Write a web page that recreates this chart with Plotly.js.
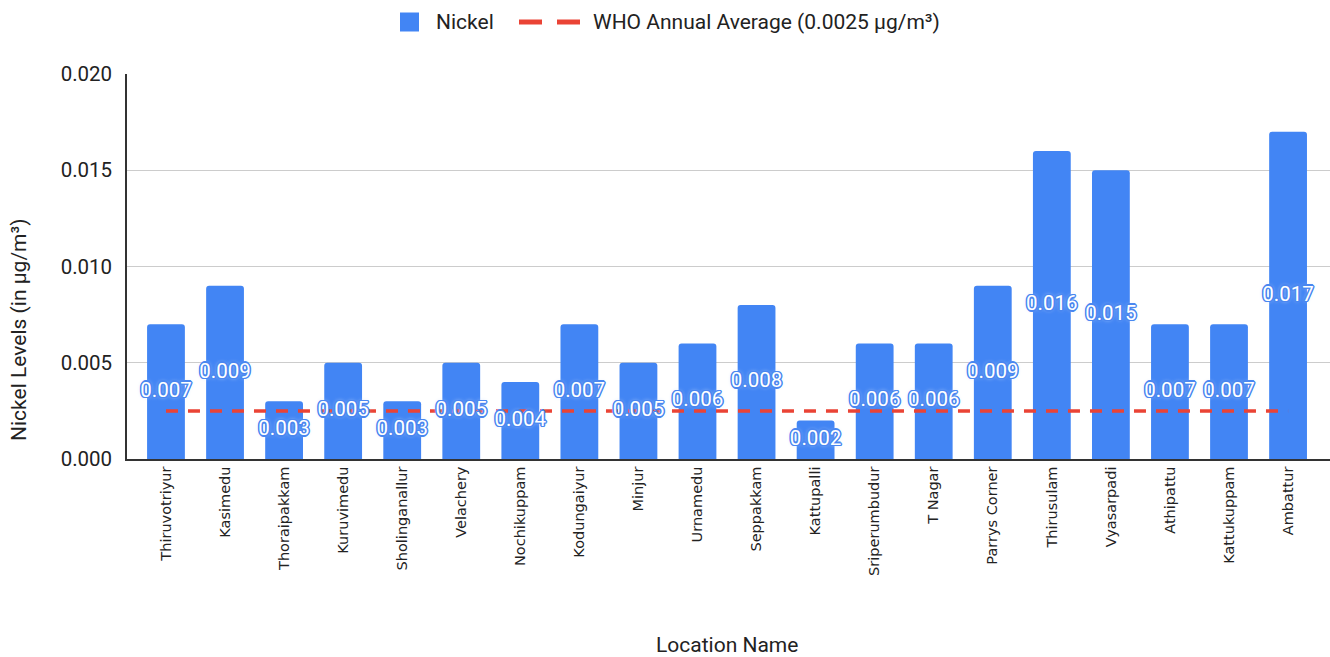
<!DOCTYPE html>
<html>
<head>
<meta charset="utf-8">
<script src="https://cdn.plot.ly/plotly-3.0.1.min.js"></script>
<style>
  html, body { margin: 0; padding: 0; background: #ffffff; }
  #chart { width: 1330px; height: 657px; }
</style>
</head>
<body>
<div id="chart"></div>
<script>
// Monitoring stations
const locations = [
  "Thiruvotriyur", "Kasimedu", "Thoraipakkam", "Kuruvimedu", "Sholinganallur",
  "Velachery", "Nochikuppam", "Kodungaiyur", "Minjur", "Urnamedu",
  "Seppakkam", "Kattupalli", "Sriperumbudur", "T Nagar", "Parrys Corner",
  "Thirusulam", "Vyasarpadi", "Athipattu", "Kattukuppam", "Ambattur"
];

// Nickel concentration at each station (µg/m³)
const nickel = [
  0.007, 0.009, 0.003, 0.005, 0.003,
  0.005, 0.004, 0.007, 0.005, 0.006,
  0.008, 0.002, 0.006, 0.006, 0.009,
  0.016, 0.015, 0.007, 0.007, 0.017
];

// WHO annual average guideline for nickel (µg/m³)
const whoLimit = 0.0025;

const seriesNames = ["Nickel", "WHO Annual Average (0.0025 µg/m³)"];
const axisTitles = { x: "Location Name", y: "Nickel Levels (in µg/m³)" };

const yTicks = [0, 0.005, 0.010, 0.015, 0.020];
const yTickText = ["0.000", "0.005", "0.010", "0.015", "0.020"];

const BLUE = "#4285F4";
const RED = "#EA4335";
const INK = "#222222";
const FONT = "Roboto, Arial, sans-serif";

// Plot area in pixels (used to place legend and titles in paper units)
const W = 1330, H = 657;
const M = { l: 127, r: 0, t: 74, b: 198 };
const plotW = W - M.l - M.r;
const plotH = H - M.t - M.b;
const px = x => (x - M.l) / plotW;
const py = y => (H - M.b - y) / plotH;

const barTrace = {
  type: "bar",
  name: seriesNames[0],
  x: locations,
  y: nickel,
  marker: { color: BLUE, cornerradius: 3 },
  hoverinfo: "x+y",
  showlegend: false
};

const whoTrace = {
  type: "scatter",
  mode: "lines",
  name: seriesNames[1],
  x: locations,
  y: locations.map(() => whoLimit),
  line: { color: RED, width: 3.5, dash: "12px,10px" },
  hoverinfo: "skip",
  showlegend: false
};

// Value labels, centred on each bar and drawn above the guideline
const labelTrace = {
  type: "scatter",
  mode: "text",
  x: locations,
  y: nickel.map(v => v / 2),
  text: nickel.map(v => v.toFixed(3)),
  textposition: "middle center",
  textfont: {
    family: FONT,
    size: 20.5,
    color: "#ffffff",
    shadow: "1.5px 0 0 #4a87f0, -1.5px 0 0 #4a87f0, 0 1.5px 0 #4a87f0, 0 -1.5px 0 #4a87f0, 1px 1px 0 #4a87f0, -1px -1px 0 #4a87f0, 1px -1px 0 #4a87f0, -1px 1px 0 #4a87f0, 0 0 4px #c9dbfb"
  },
  showlegend: false,
  hoverinfo: "skip"
};

// Legend: swatch + dashed key + labels across the top
const legendY = 22;
const shapes = [
  {
    type: "rect", xref: "paper", yref: "paper",
    x0: px(400), x1: px(419), y0: py(legendY - 9.5), y1: py(legendY + 9.5),
    fillcolor: BLUE, line: { width: 0 }
  },
  {
    type: "line", xref: "paper", yref: "paper",
    x0: px(519), x1: px(542), y0: py(legendY), y1: py(legendY),
    line: { color: RED, width: 5 }
  },
  {
    type: "line", xref: "paper", yref: "paper",
    x0: px(557), x1: px(580), y0: py(legendY), y1: py(legendY),
    line: { color: RED, width: 5 }
  }
];

const annotations = [
  {
    xref: "paper", yref: "paper", x: px(434), y: py(legendY),
    xanchor: "left", yanchor: "middle", showarrow: false,
    text: seriesNames[0], font: { family: FONT, size: 21, color: INK }
  },
  {
    xref: "paper", yref: "paper", x: px(591), y: py(legendY),
    xanchor: "left", yanchor: "middle", showarrow: false,
    text: seriesNames[1], font: { family: FONT, size: 21, color: INK }
  },
  {
    xref: "paper", yref: "paper", x: px(727), y: py(645),
    xanchor: "center", yanchor: "middle", showarrow: false,
    text: axisTitles.x, font: { family: FONT, size: 21, color: INK }
  },
  {
    xref: "paper", yref: "paper", x: px(19), y: py(330),
    xanchor: "center", yanchor: "middle", showarrow: false, textangle: -90,
    text: axisTitles.y, font: { family: FONT, size: 21, color: INK }
  }
];

const layout = {
  width: W,
  height: H,
  margin: M,
  paper_bgcolor: "#ffffff",
  plot_bgcolor: "#ffffff",
  font: { family: FONT, color: INK },
  bargap: 0.36,
  showlegend: false,
  shapes: shapes,
  annotations: annotations,
  xaxis: {
    type: "category",
    range: [-0.66, 19.71],
    tickangle: -90,
    tickfont: { family: "DejaVu Sans, sans-serif", size: 14.5, color: INK },
    showgrid: false,
    showline: true,
    linecolor: "#333333",
    linewidth: 1.5,
    ticks: "",
    zeroline: false,
    automargin: false
  },
  yaxis: {
    range: [0, 0.020],
    tickvals: yTicks,
    ticktext: yTickText,
    tickfont: { family: FONT, size: 20.5, color: INK },
    ticklabelstandoff: 9,
    showgrid: true,
    gridcolor: "#cccccc",
    gridwidth: 1,
    showline: true,
    linecolor: "#333333",
    linewidth: 1.5,
    zeroline: false,
    ticks: "",
    automargin: false
  }
};

Plotly.newPlot("chart", [barTrace, whoTrace, labelTrace], layout, {
  displayModeBar: false
});
</script>
</body>
</html>
